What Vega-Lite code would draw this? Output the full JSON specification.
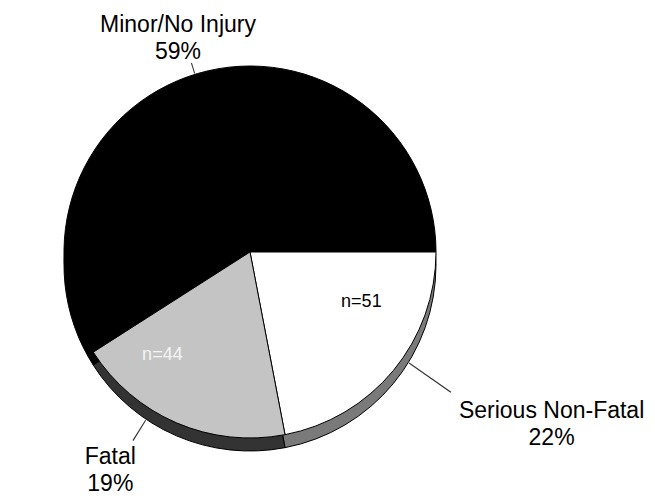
{
  "$schema": "https://vega.github.io/schema/vega-lite/v6.json",
  "width": 500,
  "height": 496,
  "autosize": {"type": "none"},
  "padding": {"left": 0, "top": 4, "right": 155, "bottom": 0},
  "background": "white",
  "config": {"view": {"stroke": null}, "font": "Liberation Sans"},
  "data": {"values": [
    {"category": "Minor/No Injury", "count": 137, "n": "", "label": "Minor/No Injury\n59%"},
    {"category": "Serious Non-Fatal", "count": 51, "n": "n=51", "label": "Serious Non-Fatal\n22%"},
    {"category": "Fatal", "count": 44, "n": "n=44", "label": "Fatal\n19%"}
  ]},
  "encoding": {
    "theta": {"field": "count", "type": "quantitative", "stack": true, "scale": {"range": [4.14369, -2.1395]}},
    "order": {"field": "count", "sort": "ascending"}
  },
  "layer": [
    {
      "mark": {"type": "arc", "outerRadius": 186, "yOffset": 13, "stroke": "black", "strokeWidth": 1},
      "encoding": {"color": {"field": "category", "type": "nominal", "legend": null,
        "scale": {"domain": ["Minor/No Injury", "Serious Non-Fatal", "Fatal"], "range": ["#000000", "#7a7a7a", "#333333"]}}}
    },
    {
      "mark": {"type": "arc", "outerRadius": 186, "stroke": "black", "strokeWidth": 1},
      "encoding": {"fill": {"field": "category", "type": "nominal", "legend": null,
        "scale": {"domain": ["Minor/No Injury", "Serious Non-Fatal", "Fatal"], "range": ["#000000", "#ffffff", "#c4c4c4"]}}}
    },
    {
      "data": {"values": [{"from": 164.0, "to": 164.2}]},
      "mark": {"type": "arc", "innerRadius": 187, "outerRadius": 198, "fill": "#333333", "strokeWidth": 0},
      "encoding": {"theta": {"field": "from", "type": "quantitative", "stack": null}, "theta2": {"field": "to"}, "order": null}
    },
    {
      "data": {"values": [{"from": 16.4, "to": 16.6}]},
      "mark": {"type": "arc", "innerRadius": 198, "outerRadius": 222, "fill": "#333333", "strokeWidth": 0},
      "encoding": {"theta": {"field": "from", "type": "quantitative", "stack": null}, "theta2": {"field": "to"}, "order": null}
    },
    {
      "data": {"values": [{"from": 72.4, "to": 72.6}]},
      "mark": {"type": "arc", "innerRadius": 194, "outerRadius": 245, "fill": "#333333", "strokeWidth": 0},
      "encoding": {"theta": {"field": "from", "type": "quantitative", "stack": null}, "theta2": {"field": "to"}, "order": null}
    },
    {
      "mark": {"type": "text", "radius": 122, "thetaOffset": -0.27, "fontSize": 18, "fill": "black"},
      "encoding": {
        "detail": {"field": "category"},
        "text": {"condition": {"test": "datum.category !== 'Serious Non-Fatal'", "value": ""}, "field": "n"}
      }
    },
    {
      "mark": {"type": "text", "radius": 135, "thetaOffset": 0.3, "fontSize": 18, "fill": "#f4f4f4"},
      "encoding": {
        "detail": {"field": "category"},
        "text": {"condition": {"test": "datum.category !== 'Fatal'", "value": ""}, "field": "n"}
      }
    },
    {
      "mark": {"type": "text", "radius": 238, "thetaOffset": -0.023, "fontSize": 23, "lineHeight": 27, "lineBreak": "\n", "fill": "black"},
      "encoding": {
        "detail": {"field": "category"},
        "text": {"condition": {"test": "datum.category !== 'Minor/No Injury'", "value": ""}, "field": "label"}
      }
    },
    {
      "mark": {"type": "text", "radius": 248, "thetaOffset": 0.192, "fontSize": 23, "lineHeight": 27, "lineBreak": "\n", "fill": "black"},
      "encoding": {
        "detail": {"field": "category"},
        "text": {"condition": {"test": "datum.category !== 'Fatal'", "value": ""}, "field": "label"}
      }
    },
    {
      "mark": {"type": "text", "radius": 341, "thetaOffset": -0.205, "fontSize": 23, "lineHeight": 27, "lineBreak": "\n", "fill": "black"},
      "encoding": {
        "detail": {"field": "category"},
        "text": {"condition": {"test": "datum.category !== 'Serious Non-Fatal'", "value": ""}, "field": "label"}
      }
    }
  ],
  "resolve": {"scale": {"color": "independent", "fill": "independent"}}
}
